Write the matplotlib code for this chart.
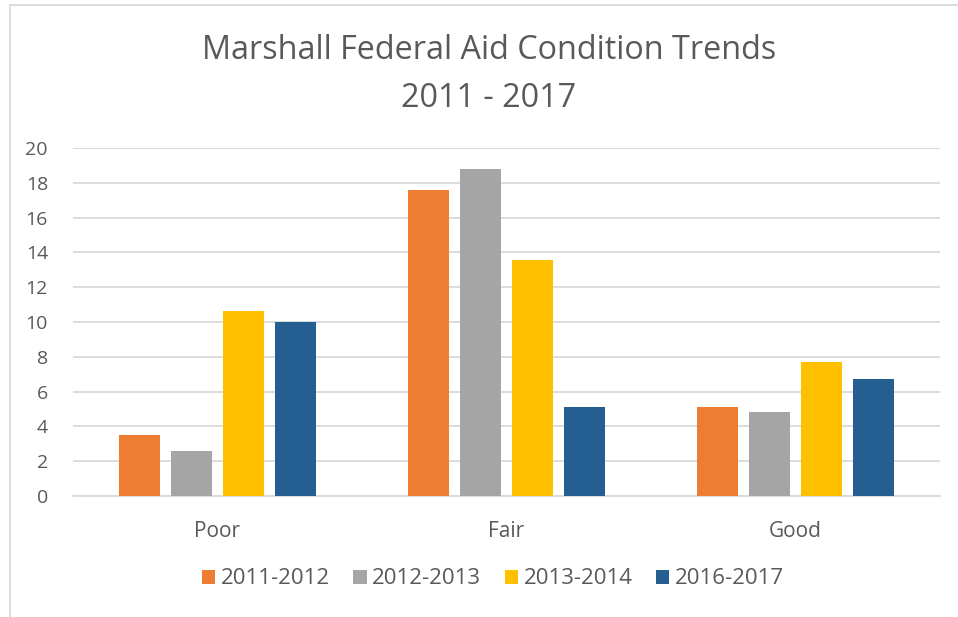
import matplotlib.pyplot as plt
import numpy as np
from matplotlib.patches import Rectangle

categories = ["Poor", "Fair", "Good"]
series = ["2011-2012", "2012-2013", "2013-2014", "2016-2017"]
v_2011 = [3.5, 17.6, 5.1]
v_2012 = [2.6, 18.8, 4.8]
v_2013 = [10.65, 13.55, 7.7]
v_2016 = [10.0, 5.1, 6.7]
colors = ["#ED7D31", "#A5A5A5", "#FFC000", "#255E91"]

plt.rcParams['font.family'] = ['Open Sans', 'DejaVu Sans']
text_col = "#595959"

fig = plt.figure(figsize=(9.58, 6.17), dpi=100)
W, H = 958, 617
ax = fig.add_axes([73 / W, 1 - 496 / H, (940 - 73) / W, (496 - 148) / H])

x = np.arange(len(categories))
bw = 41 / 289
step = 52 / 289
for i, (vals, name) in enumerate(zip([v_2011, v_2012, v_2013, v_2016], series)):
    ax.bar(x + (i - 1.5) * step, vals, width=bw, color=colors[i], label=name, zorder=3)

ax.set_xlim(-0.5, 2.5)
ax.set_ylim(0, 20)
ax.set_yticks(range(0, 21, 2))
ax.set_xticks(x)
ax.set_xticklabels(categories)
ax.grid(axis='y', color="#d9d9d9", linewidth=1.3, zorder=0)
for s in ["top", "right", "left"]:
    ax.spines[s].set_visible(False)
ax.spines["bottom"].set_color("#d9d9d9")
ax.spines["bottom"].set_linewidth(1.3)
ax.tick_params(length=0, colors=text_col)
ax.tick_params(axis='x', pad=18, labelsize=15)
ax.tick_params(axis='y', pad=18, labelsize=14)

fig.text(489 / W, 1 - 74.5 / H, "Marshall Federal Aid Condition Trends\n2011 - 2017",
         ha='center', va='center', fontsize=23.3, color=text_col, linespacing=1.6)

ax.legend(loc='center', bbox_to_anchor=(493 / W, 1 - 579 / H), bbox_transform=fig.transFigure,
          ncol=4, frameon=False, fontsize=16, handlelength=0.6, handleheight=0.6,
          handletextpad=0.25, columnspacing=1.05, labelcolor=text_col)

# chart area border
fig.patches.append(Rectangle((9.5 / W, -0.1), 1.1, 1 - 4.5 / H + 0.1, transform=fig.transFigure,
                             fill=False, edgecolor="#d9d9d9", linewidth=1.3))

fig.savefig("out.png", dpi=100)
